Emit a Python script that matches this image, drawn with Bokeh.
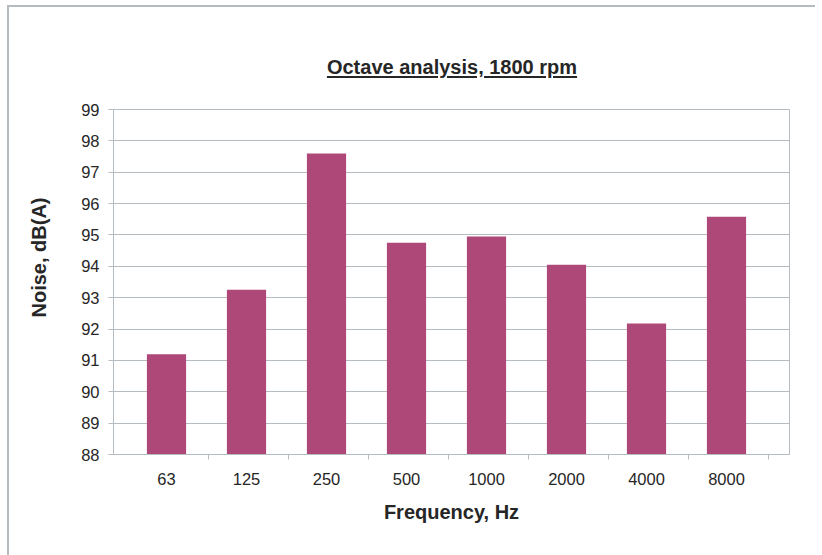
from bokeh.plotting import figure
from bokeh.models import Range1d, FixedTicker, Title, ColumnDataSource, Div, LinearAxis
from bokeh.layouts import column
from bokeh.embed import file_html
from bokeh.resources import INLINE

# ---- data ----
frequencies = ["63", "125", "250", "500", "1000", "2000", "4000", "8000"]
noise_dba = [91.2, 93.25, 97.6, 94.75, 94.95, 94.05, 92.18, 95.58]
y_ticks = list(range(88, 100))

title_text = "Octave analysis, 1800 rpm"
x_label = "Frequency, Hz"
y_label = "Noise, dB(A)"

FONT = "Liberation Sans"
GRID = "#b5bdc3"
TXT = "#262626"
BAR = "#ad4878"

idx = list(range(len(frequencies)))
src = ColumnDataSource(dict(x=idx, top=noise_dba))

# title as underlined HTML text above the figure
title_div = Div(
    text=(f'<div style="margin-left:105px;width:676px;text-align:center;'
          f'padding-top:50px;font-family:\'{FONT}\';font-size:20px;line-height:20px;'
          f'font-weight:bold;color:{TXT};text-decoration:underline;'
          f'text-decoration-thickness:2px;text-underline-offset:2px;">{title_text}</div>'),
    width=806, height=93, margin=0)

p = figure(width=806, height=455, output_backend="svg", toolbar_location=None,
           x_range=Range1d(-0.6625, len(frequencies) - 0.2125),
           y_range=Range1d(88, 99),
           min_border_left=104, min_border_right=26, min_border_top=9,
           min_border_bottom=101, margin=0)
p.title.visible = False

p.vbar(x="x", top="top", bottom=88, width=0.49, source=src,
       fill_color=BAR, line_color=None)

# invisible spacer between the y axis and its label (white tick on white)
spacer = LinearAxis(ticker=FixedTicker(ticks=[y_ticks[0]]), axis_line_color=None,
                    major_tick_line_color="white", minor_tick_line_color=None,
                    major_tick_in=0, major_tick_out=29, minor_tick_in=0,
                    minor_tick_out=0, major_label_standoff=0,
                    major_label_text_font_size="0px",
                    major_label_overrides={y_ticks[0]: ""})
p.add_layout(spacer, "left")

# y label as left title, positioned like the reference
ylab = Title(text=y_label, align="left", offset=137, text_font=FONT,
             text_font_size="20px", text_font_style="bold", text_color=TXT,
             standoff=0)
p.add_layout(ylab, "left")

# axes
p.yaxis[0].ticker = FixedTicker(ticks=y_ticks)
p.xaxis.ticker = FixedTicker(ticks=idx, minor_ticks=[i + 0.52 for i in idx])
p.xaxis.major_label_overrides = {i: f for i, f in zip(idx, frequencies)}

for ax in (p.xaxis[0], p.yaxis[0]):
    ax.axis_line_color = GRID
    ax.major_label_text_font = FONT
    ax.major_label_text_font_size = "16.5px"
    ax.major_label_text_color = TXT
    ax.axis_label_text_font = FONT
    ax.axis_label_text_font_size = "20px"
    ax.axis_label_text_font_style = "bold"
    ax.axis_label_text_color = TXT

yax = p.yaxis[0]
yax.major_tick_line_color = GRID
yax.major_tick_in = 0
yax.major_tick_out = 5
yax.minor_tick_line_color = None
yax.major_label_standoff = 9

p.xaxis.axis_label = x_label
p.xaxis.major_tick_in = 0
p.xaxis.major_tick_out = 5
p.xaxis.major_tick_line_alpha = 0
p.xaxis.minor_tick_line_color = GRID
p.xaxis.minor_tick_in = 0
p.xaxis.minor_tick_out = 5
p.xaxis.major_label_standoff = 13
p.xaxis.axis_label_standoff = 13

p.xgrid.grid_line_color = None
p.ygrid.ticker = FixedTicker(ticks=y_ticks)
p.ygrid.grid_line_color = GRID

p.outline_line_color = GRID
p.outline_line_width = 1
p.background_fill_color = "white"
p.border_fill_color = "white"

layout = column(title_div, p, spacing=0,
                styles={"border-top": "2px solid #b3bbbf",
                        "border-left": "2px solid #b3bbbf",
                        "margin-top": "5px", "margin-left": "7px"})

open("out.html", "w").write(file_html(layout, INLINE))
